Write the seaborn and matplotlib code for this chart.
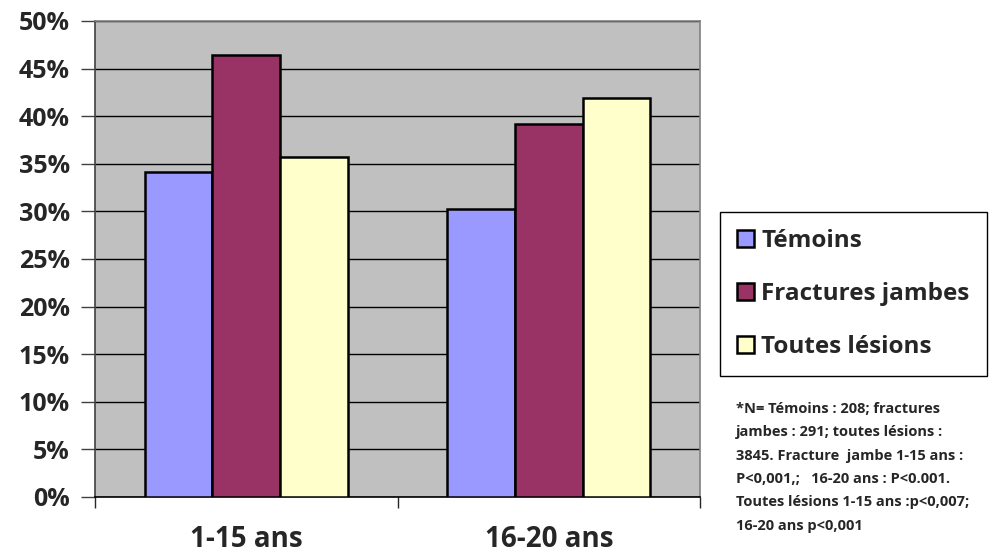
import matplotlib
matplotlib.use("Agg")
import matplotlib.pyplot as plt
import seaborn as sns
import pandas as pd
from matplotlib.ticker import FuncFormatter, FixedLocator

categories = ["1-15 ans", "16-20 ans"]
series = ["Témoins", "Fractures jambes", "Toutes lésions"]
temoins = [34.1, 30.2]
fractures = [46.4, 39.2]
toutes = [35.75, 41.9]
yticks = [0, 5, 10, 15, 20, 25, 30, 35, 40, 45, 50]
colors = ["#9999FF", "#993366", "#FFFFCC"]
note = ("*N= Témoins : 208; fractures\njambes : 291; toutes lésions :\n"
        "3845. Fracture  jambe 1-15 ans :\nP<0,001,;   16-20 ans : P<0.001.\n"
        "Toutes lésions 1-15 ans :p<0,007;\n16-20 ans p<0,001")

rows = []
for s, vals in zip(series, [temoins, fractures, toutes]):
    for c, v in zip(categories, vals):
        rows.append({"cat": c, "serie": s, "val": v})
df = pd.DataFrame(rows)

sns.set_style("white")
plt.rcParams["font.family"] = ["Open Sans", "DejaVu Sans"]
plt.rcParams["font.weight"] = "bold"

fig = plt.figure(figsize=(9.94, 5.56), dpi=100)
ax = fig.add_axes([95/994, 59/556, 605/994, 476/556])
ax.set_facecolor("#C0C0C0")
sns.barplot(data=df, x="cat", y="val", hue="serie", hue_order=series,
            palette=colors, width=0.67, edgecolor="black", linewidth=1.8,
            saturation=1, ax=ax, zorder=3)
ax.set_ylim(0, 50)
ax.set_xlim(-0.5, 1.5)
ax.yaxis.set_major_locator(FixedLocator(yticks))
ax.yaxis.set_major_formatter(FuncFormatter(lambda v, p: f"{v:.0f}%"))
ax.grid(axis="y", color="black", linewidth=1.0, zorder=1)
ax.set_axisbelow(True)
ax.set_xlabel("")
ax.set_ylabel("")
for sp in ["top", "right"]:
    ax.spines[sp].set_color("#808080")
    ax.spines[sp].set_linewidth(1.2)
ax.spines["left"].set_color("#404040")
ax.spines["bottom"].set_color("black")
ax.spines["left"].set_linewidth(1.2)
ax.spines["bottom"].set_linewidth(1.2)
ax.tick_params(axis="y", which="major", direction="out", length=10, width=1,
               labelsize=18, pad=8, left=True, color="#404040")
ax.tick_params(axis="x", which="major", length=0, labelsize=20, pad=20)
ax.xaxis.set_minor_locator(FixedLocator([-0.5, 0.5, 1.5]))
ax.tick_params(axis="x", which="minor", direction="out", length=8, width=1, bottom=True)
for t in ax.get_yticklabels() + ax.get_xticklabels():
    t.set_fontweight("bold")

handles, labels = ax.get_legend_handles_labels()
ax.legend(handles, labels, loc="upper left", bbox_to_anchor=(720/994, 1 - 212/556),
          bbox_transform=fig.transFigure, frameon=True, fancybox=False,
          edgecolor="black", framealpha=1, prop={"size": 17.5, "weight": "bold"},
          handlelength=0.7, handleheight=0.7, handletextpad=0.3, labelspacing=1.2,
          borderpad=0.7, borderaxespad=0)
fig.text(736/994, 1 - 402/556, note, fontsize=10.5, fontweight="bold", va="top",
         ha="left", linespacing=1.85)
fig.savefig("out.png", dpi=100)
